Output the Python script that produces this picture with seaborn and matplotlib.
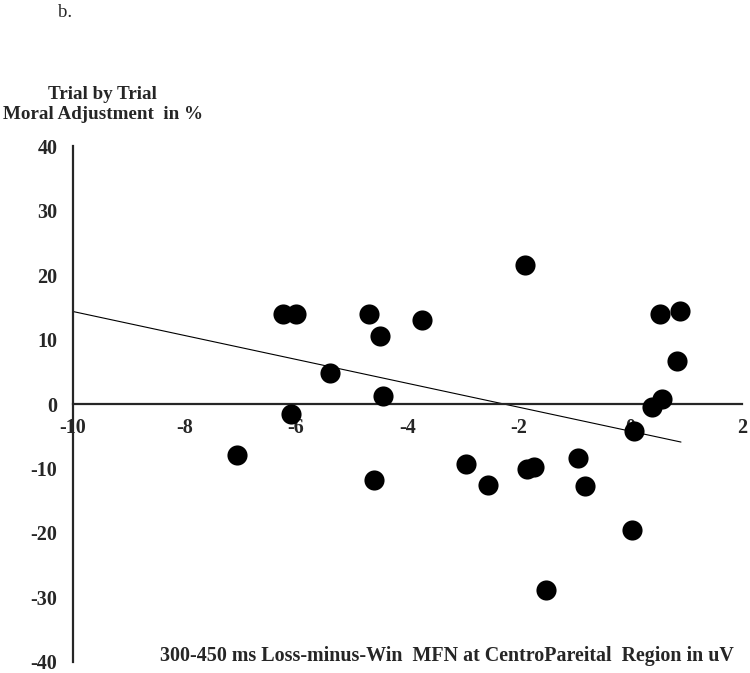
import matplotlib
matplotlib.use("Agg")
import matplotlib.pyplot as plt
import pandas as pd
import seaborn as sns

# Loss-minus-Win MFN amplitude (uV) per participant
mfn_uv = [-6.23, -5.99, -5.39, -6.08, -4.69, -4.49, -4.43, -3.73, -1.88,
          0.53, 0.90, 0.84, 0.57, 0.39, 0.06, -7.05, -4.60, -2.95,
          -2.56, -1.85, -1.72, -0.93, -0.82, 0.04, -1.51]
# Trial by trial moral adjustment (%)
moral_adj = [14.0, 14.0, 4.8, -1.6, 13.9, 10.5, 1.3, 13.0, 21.5,
             13.9, 14.4, 6.6, 0.7, -0.5, -4.2, -7.9, -11.8, -9.3,
             -12.6, -10.1, -9.7, -8.3, -12.7, -19.6, -28.8]

# linear trend line (start / end)
trend_x = [-10, 0.91]
trend_y = [14.35, -5.9]

x_ticks = [-10, -8, -6, -4, -2, 0, 2]
y_ticks = [-40, -30, -20, -10, 0, 10, 20, 30, 40]

df = pd.DataFrame({"mfn": mfn_uv, "adj": moral_adj})
df_trend = pd.DataFrame({"x": trend_x, "y": trend_y})

sns.set_style("white")
plt.rcParams["font.family"] = ["Liberation Serif", "DejaVu Serif"]

fig = plt.figure(figsize=(7.5, 6.73), dpi=100)
ax = fig.add_axes([0.097, 0.0164, 0.892, 0.7666])

sns.lineplot(data=df_trend, x="x", y="y", color="black", linewidth=0.8, ax=ax, zorder=2)
sns.scatterplot(data=df, x="mfn", y="adj", color="black", s=210,
                edgecolor="black", linewidth=0, ax=ax, zorder=3)

# spines first (moving a spine resets its ticks)
ax.spines["top"].set_visible(False)
ax.spines["right"].set_visible(False)
ax.spines["bottom"].set_position(("data", 0))
ax.spines["left"].set_linewidth(1.6)
ax.spines["bottom"].set_linewidth(1.6)

ax.set_xlim(-10, 2)
ax.set_ylim(-40, 40)
ax.set_xticks(x_ticks)
ax.set_yticks(y_ticks)
ax.set_xticklabels([str(t) for t in x_ticks])
ax.set_yticklabels([str(t) for t in y_ticks])
ax.set_xlabel("")
ax.set_ylabel("")
ax.tick_params(axis="both", direction="out", length=5, width=1.4, color="black",
               labelsize=14.5)
ax.tick_params(axis="x", pad=5)
ax.tick_params(axis="y", pad=6)
for lab in ax.get_xticklabels() + ax.get_yticklabels():
    lab.set_fontweight("bold")

fig.text(0.077, 0.982, "b.", fontsize=13.5, ha="left", va="center")
fig.text(0.137, 0.845, "Trial by Trial\nMoral Adjustment  in %", fontsize=13.7,
         fontweight="bold", ha="center", va="center", linespacing=1.25)
ax.text(0.56, 0.012, "300-450 ms Loss-minus-Win  MFN at CentroPareital  Region in uV",
        transform=ax.transAxes, fontsize=14.4, fontweight="bold", ha="center", va="center")

fig.savefig("out.png", dpi=100)
